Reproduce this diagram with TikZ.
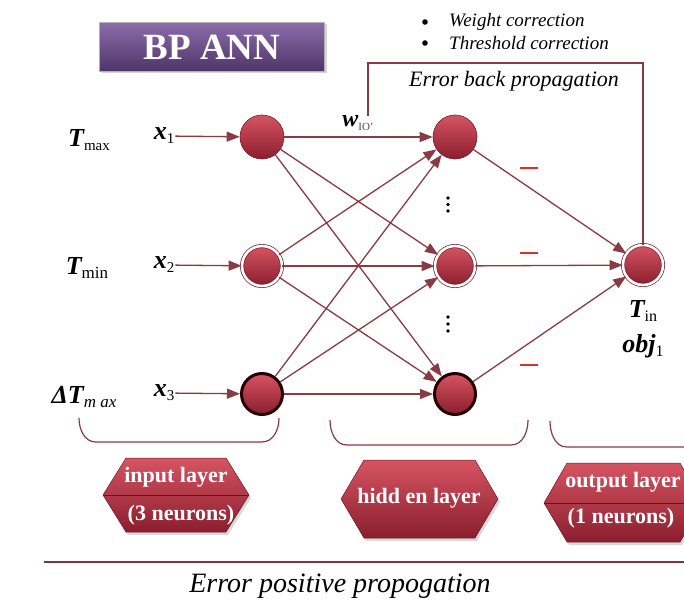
\documentclass[tikz,border=0pt]{standalone}
\usepackage{fontspec}
\setmainfont{Liberation Serif}
\usetikzlibrary{arrows.meta,shadows}
\definecolor{edgec}{RGB}{138,58,68}
\definecolor{ntop}{RGB}{214,84,98}
\definecolor{nbot}{RGB}{138,30,46}
\definecolor{nline}{RGB}{120,30,40}
\definecolor{ptop}{RGB}{140,108,172}
\definecolor{pbot}{RGB}{78,52,102}
\definecolor{dashred}{RGB}{225,45,45}
\definecolor{subc}{RGB}{70,70,110}
\begin{document}
\begin{tikzpicture}[x=1pt,y=-1pt,
 neuron/.style={circle,minimum size=44pt,inner sep=0pt,top color=ntop,bottom color=nbot,draw=nline,line width=0.6pt},
 neurond/.style={neuron,minimum size=40pt,draw=nline,double=white,double distance=2.6pt,line width=0.7pt},
 neuront/.style={neuron,draw=black!85!red,line width=3pt,minimum size=41pt},
 conn/.style={draw=edgec,line width=1.3pt,-{Triangle[length=13pt,width=10pt]}},
 lbl/.style={inner sep=1pt,font=\fontsize{26}{26}\selectfont},
 hexfill/.style={top color=ntop,bottom color=nbot,draw=nbot!80!black,line width=0.5pt,drop shadow={opacity=0.3,shadow xshift=2pt,shadow yshift=-3pt}},
 hextext/.style={text=white,font=\fontsize{22}{22}\selectfont\bfseries,inner sep=0pt},
 brace/.style={draw=edgec,line width=1.2pt},
 itxt/.style={font=\itshape,inner sep=0pt}
]
\useasboundingbox (0,0) rectangle (684,604);
\clip (0,0) rectangle (684,604);

% title
\node[draw=gray!60,line width=0.8pt,top color=ptop,bottom color=pbot,minimum width=225pt,minimum height=49pt,
      text=white,font=\fontsize{37}{37}\selectfont\bfseries,
      drop shadow={opacity=0.35,shadow xshift=2pt,shadow yshift=-2pt}] (title) at (212,47) {BP ANN};

% bullets
\node[itxt,anchor=west,font=\fontsize{19}{19}\selectfont\itshape] (b1) at (449,22) {Weight correction};
\node[itxt,anchor=west,font=\fontsize{19}{19}\selectfont\itshape] (b2) at (449,43) {Threshold correction};
\fill (425,22) circle (2.8pt);
\fill (425,43) circle (2.8pt);

% neurons
\node[neuron]  (i1) at (262,137) {};
\node[neurond] (i2) at (262,266) {};
\node[neuront] (i3) at (262,394) {};
\node[neuron]  (h1) at (455,137) {};
\node[neurond] (h2) at (455,266) {};
\node[neuront] (h3) at (455,394) {};
\node[neurond] (o)  at (643,265) {};

% input labels
\node[lbl] (tmax) at (89,140) {{\bfseries\itshape T}{\fontsize{15}{15}\selectfont\raisebox{-4pt}{max}}};
\node[lbl] (tmin) at (87,268) {{\bfseries\itshape T}{\fontsize{17}{17}\selectfont\raisebox{-4pt}{min}}};
\node[lbl] (dtmax) at (84,397) {{\bfseries\itshape ΔT}{\fontsize{17}{17}\selectfont\itshape\raisebox{-4pt}{m ax}}};
\node[lbl] (x1) at (164,136) {{\bfseries\itshape x}{\fontsize{15}{15}\selectfont\raisebox{-4pt}{1}}};
\node[lbl] (x2) at (164,265) {{\bfseries\itshape x}{\fontsize{15}{15}\selectfont\raisebox{-4pt}{2}}};
\node[lbl] (x3) at (164,393) {{\bfseries\itshape x}{\fontsize{15}{15}\selectfont\raisebox{-4pt}{3}}};

\draw[conn] (x1) -- (i1);
\draw[conn] (x2) -- (i2);
\draw[conn] (x3) -- (i3);

% full connections
\foreach \a in {i1,i2,i3}{
  \foreach \b in {h1,h2,h3}{
    \draw[conn] (\a) -- (\b);
  }
}
\draw[conn] (h1) -- (o);
\draw[conn] (h2) -- (o);
\draw[conn] (h3) -- (o);

% weight label
\node[inner sep=0pt] (w) at (358,123) {{\fontsize{24}{24}\selectfont\bfseries\itshape w}{\color{subc}\fontsize{11}{11}\selectfont\raisebox{-4pt}{IO'}}};

% error back propagation loop
\coordinate (wtop) at (368,116);
\draw[edgec,line width=1.3pt] (wtop) |- (643,63) -- (o.north);
\node[itxt,font=\fontsize{22}{22}\selectfont\itshape] (ebp) at (514,81) {Error back propagation};

% dots
\foreach \y in {198,204.5,211,317,324,331}{
  \fill (448,\y) circle (1.9pt);
}

% red dashes
\draw[dashred,line width=1.7pt] (520,168) -- (538,168);
\draw[dashred,line width=1.7pt] (520,253) -- (538,253);
\draw[dashred,line width=1.7pt] (520,365) -- (538,365);

% output labels
\node[lbl] (tin) at (643,311) {{\bfseries\itshape T}{\fontsize{16}{16}\selectfont\raisebox{-4pt}{in}}};
\node[lbl] (obj) at (643,346) {{\bfseries\itshape obj}{\fontsize{16}{16}\selectfont\raisebox{-4pt}{1}}};

% braces
\draw[brace] (79,418) to[out=-90,in=180] (96,442) -- (262,442) to[out=0,in=-90] (279,418);
\draw[brace] (330,420) to[out=-90,in=180] (347,445) -- (511,445) to[out=0,in=-90] (528,420);
\draw[brace] (550,421) to[out=-90,in=180] (567,447) -- (700,447);

% hexagons
\path[hexfill] (103,495) -- (126,458) -- (226,458) -- (249,495) -- (226,532) -- (126,532) -- cycle;
\draw[nbot!70!black,line width=0.8pt] (103,495) -- (249,495);
\node[hextext] (inl1) at (176,477) {input layer};
\node[hextext] (inl2) at (181,515) {(3 neurons)};

\path[hexfill] (341,499) -- (364,460) -- (475,460) -- (498,499) -- (475,538) -- (364,538) -- cycle;
\node[hextext] (hidl) at (419,498) {hidd en layer};

\path[hexfill] (544,503) -- (567,463) -- (680,463) -- (703,503) -- (680,542) -- (567,542) -- cycle;
\draw[nbot!70!black,line width=0.8pt] (544,503) -- (703,503);
\node[hextext] (outl1) at (623,482) {output layer};
\node[hextext] (outl2) at (621,518) {(1 neurons)};

% bottom line and caption
\coordinate (lineL) at (44,562);
\coordinate (lineR) at (684,562);
\draw[edgec!90!black,line width=2.8pt] (lineL) -- (lineR);
\node[itxt,font=\fontsize{28}{28}\selectfont\itshape] (epp) at (340,586) {Error positive propogation};
\end{tikzpicture}
\end{document}
